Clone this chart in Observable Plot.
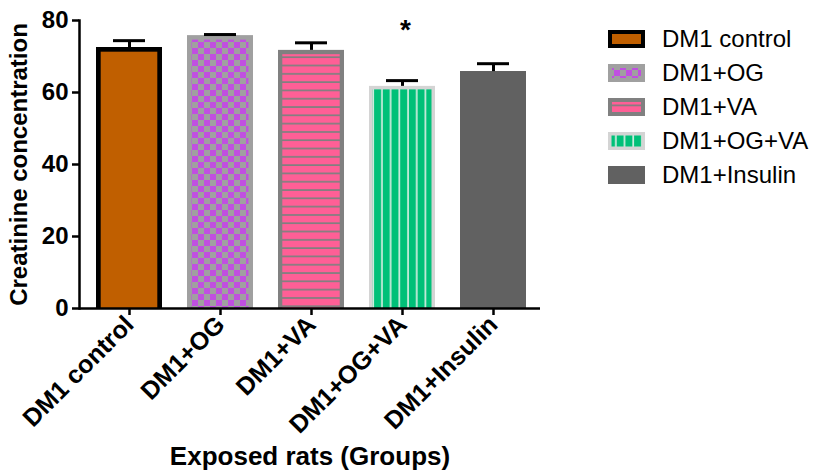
<!DOCTYPE html>
<html><head><meta charset="utf-8">
<script src="https://cdn.jsdelivr.net/npm/d3@7"></script>
<script src="https://cdn.jsdelivr.net/npm/@observablehq/plot@0.6"></script>
<style>
body{margin:0;background:#fff;}
#wrap{position:relative;width:815px;height:472px;font-family:"Liberation Sans",Arial,sans-serif;}
#legend{position:absolute;left:608px;top:22px;}
.item{display:flex;align-items:center;height:34px;}
.item svg{margin-right:17px;display:block}
.item span{font-size:24px;color:#000;line-height:34px}
</style></head><body>
<svg width="0" height="0" style="position:absolute">
<defs>
<pattern id="pat-checker" width="12" height="12" patternUnits="userSpaceOnUse">
 <rect width="12" height="12" fill="#a0a0a0"/>
 <rect width="6" height="6" fill="#c050e0"/>
 <rect x="6" y="6" width="6" height="6" fill="#c050e0"/>
</pattern>
<pattern id="pat-hstripe" width="10" height="8.3" patternUnits="userSpaceOnUse">
 <rect width="10" height="8.3" fill="#808080"/>
 <rect width="10" height="6.6" fill="#ff5f96"/>
</pattern>
<pattern id="pat-vstripe" width="8.7" height="10" patternUnits="userSpaceOnUse">
 <rect width="8.7" height="10" fill="#d0ece0"/>
 <rect width="7" height="10" fill="#00c078"/>
</pattern>
</defs></svg>
<div id="wrap"><div id="legend"></div></div>
<script>
// ---- data ----
const groups = ["DM1 control", "DM1+OG", "DM1+VA", "DM1+OG+VA", "DM1+Insulin"];
const means = [72.5, 75.8, 71.7, 61.7, 65.8];
const sems = [1.9, 0.3, 2.1, 1.6, 2.2];
const sigLabels = ["", "", "", "*", ""];
const yTicks = [0, 20, 40, 60, 80];

// ---- styles (per group) ----
const styles = {
  "DM1 control": {border: "#000000", inner: "#c05f00", b: 4.7},
  "DM1+OG": {border: "#a0a0a0", inner: "url(#pat-checker)", b: 4.5},
  "DM1+VA": {border: "#808080", inner: "url(#pat-hstripe)", b: 4.3},
  "DM1+OG+VA": {border: "#d4d4d4", inner: "url(#pat-vstripe)", b: 3.5},
  "DM1+Insulin": {border: "#616161", inner: "#616161", b: 0}
};

const data = groups.map((g, i) => ({group: g, mean: means[i], sem: sems[i], sig: sigLabels[i]}));

const barMarks = groups.flatMap(g => {
  const s = styles[g];
  const sub = data.filter(d => d.group === g);
  return [
    Plot.barY(sub, {x: "group", y: "mean", fill: s.border}),
    Plot.barY(sub, {x: "group", y: "mean", fill: s.inner, insetTop: s.b, insetLeft: s.b, insetRight: s.b})
  ];
});

const plot = Plot.plot({
  width: 815,
  height: 472,
  marginLeft: 79,
  marginRight: 275,
  marginTop: 20,
  marginBottom: 164,
  style: {fontFamily: "'Liberation Sans', Arial, sans-serif", fontWeight: "bold", fontSize: "24px", color: "#000", background: "transparent"},
  x: {domain: groups, range: [82, 540], paddingInner: 0.28, paddingOuter: 0.14},
  y: {domain: [0, 80], nice: false},
  marks: [
    ...barMarks,
    Plot.ruleX(data, {x: "group", y1: "mean", y2: d => d.mean + d.sem, stroke: "#000", strokeWidth: 3}),
    Plot.tickY(data, {x: "group", y: d => d.mean + d.sem, stroke: "#000", strokeWidth: 3, insetLeft: 17, insetRight: 17}),
    Plot.text(data.filter(d => d.sig), {x: "group", y: d => d.mean + d.sem + 14, text: "sig", fontSize: 28, fontWeight: "bold", dx: 3}),
    Plot.ruleY([0], {stroke: "#000", strokeWidth: 2.5}),
    Plot.frame({anchor: "left", stroke: "#000", strokeWidth: 2.5}),
    Plot.axisY({ticks: yTicks, tickSize: 7, tickPadding: 4, fontSize: 24, fontWeight: "bold", strokeWidth: 2.5,
      label: "Creatinine concentration", labelAnchor: "center", labelOffset: 70, labelArrow: "none"}),
    Plot.axisX({tickSize: 7, tickPadding: 5, tickRotate: -45, fontSize: 25, fontWeight: "bold", strokeWidth: 2.5,
      label: null}),
    Plot.axisX({ticks: [], tickSize: 0, fontSize: 26, fontWeight: "bold",
      label: "Exposed rats (Groups)", labelAnchor: "center", labelOffset: 156, labelArrow: "none"})
  ]
});
document.getElementById("wrap").prepend(plot);

// legend
const legend = document.getElementById("legend");
groups.forEach(g => {
  const s = styles[g];
  const item = document.createElement("div");
  item.className = "item";
  const b = Math.min(s.b, 4);
  item.innerHTML = `<svg width="37" height="18"><rect width="37" height="18" fill="${s.border}"/>` +
    `<rect x="${b}" y="${b}" width="${37 - 2 * b}" height="${18 - 2 * b}" fill="${s.inner}"/></svg><span>${g}</span>`;
  legend.appendChild(item);
});
</script>
</body></html>
